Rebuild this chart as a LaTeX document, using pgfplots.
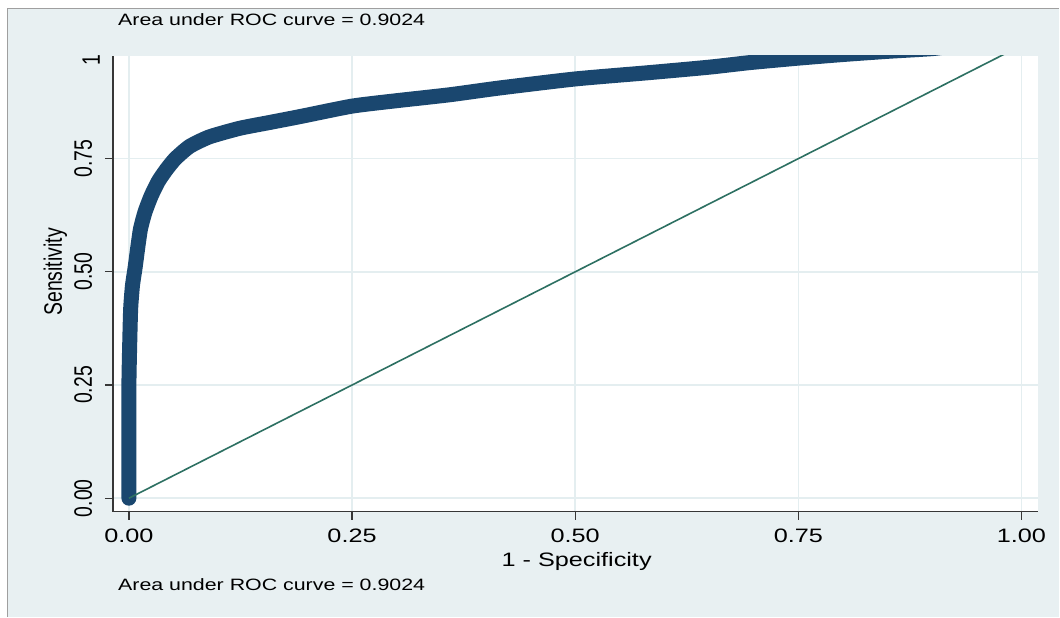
\documentclass[border=0pt]{standalone}
\usepackage{fontspec}
\setmainfont{Liberation Sans}
\usepackage{pgfplots}
\pgfplotsset{compat=1.18}
\definecolor{bgc}{RGB}{232,240,242}
\definecolor{gridc}{RGB}{228,238,240}
\definecolor{navyc}{RGB}{26,71,111}
\definecolor{refc}{RGB}{45,112,98}
\definecolor{axc}{RGB}{55,55,55}
\begin{document}
\begin{tikzpicture}[x=1bp,y=1bp]
\fill[white] (0,0) rectangle (1060,617);
\fill[bgc] (7.5,0) rectangle (1060,608.5);
\draw[gray!75, line width=1.2bp] (7.5,0) -- (7.5,608.5) -- (1060,608.5);
\node[anchor=west, xscale=1.3, font=\fontsize{16.5}{18}\selectfont, inner sep=0pt] at (118,597) {Area under ROC curve = 0.9024};
\node[anchor=west, xscale=1.3, font=\fontsize{16.5}{18}\selectfont, inner sep=0pt] at (118,32) {Area under ROC curve = 0.9024};
\begin{axis}[
  at={(113bp,105bp)}, anchor=south west,
  scale only axis, width=926bp, height=456bp,
  xmin=-0.0179, xmax=1.0190, ymin=-0.0298, ymax=0.9768,
  axis background/.style={fill=white},
  axis lines*=left,
  axis line style={axc, line width=1.3bp, -},
  tick style={axc, line width=1.2bp},
  tick align=outside, major tick length=8bp,
  xtick={0,0.25,0.5,0.75,1}, xticklabels={0.00,0.25,0.50,0.75,1.00},
  ytick={0,0.25,0.5,0.75}, yticklabels={0.00,0.25,0.50,0.75},
  extra y ticks={0.968}, extra y tick labels={1},
  extra y tick style={major tick length=0pt, grid=none},
  grid=major, major grid style={gridc, line width=1.6bp},
  tick label style={font=\fontsize{19.5}{20}\selectfont},
  xticklabel style={anchor=base, inner sep=0pt, yshift=-23bp, xscale=1.3},
  yticklabel style={anchor=base, inner sep=0pt, xshift=-13bp, rotate=90, yscale=1.3},
  xlabel={1 - Specificity}, ylabel={Sensitivity},
  every axis x label/.style={at={(axis description cs:0.501,-0.1206)}, anchor=base, inner sep=0pt, xscale=1.3, font=\fontsize{19.5}{20}\selectfont},
  every axis y label/.style={at={(axis description cs:-0.0551,0.526)}, anchor=base, inner sep=0pt, rotate=90, yscale=1.3, font=\fontsize{19.5}{20}\selectfont},
]
\addplot[navyc, line width=15bp, line cap=round, line join=round, smooth, tension=0.35] coordinates {
(0,0) (0.000,0.10) (0.000,0.25) (0.001,0.35) (0.002,0.42) (0.004,0.47)
(0.007,0.51) (0.010,0.555) (0.013,0.595) (0.018,0.632) (0.025,0.668)
(0.033,0.70) (0.042,0.726) (0.052,0.75) (0.068,0.777) (0.09,0.798)
(0.124,0.817) (0.158,0.83) (0.192,0.843) (0.25,0.866) (0.30,0.878)
(0.359,0.891) (0.415,0.906) (0.50,0.926) (0.583,0.940) (0.65,0.952)
(0.695,0.962) (0.75,0.972) (0.80,0.980) (0.85,0.987) (0.90,0.993)
(0.93,1.0) (1,1)
};
\addplot[refc, line width=1.6bp] coordinates {(0,0) (1,1)};
\end{axis}
\end{tikzpicture}
\end{document}
